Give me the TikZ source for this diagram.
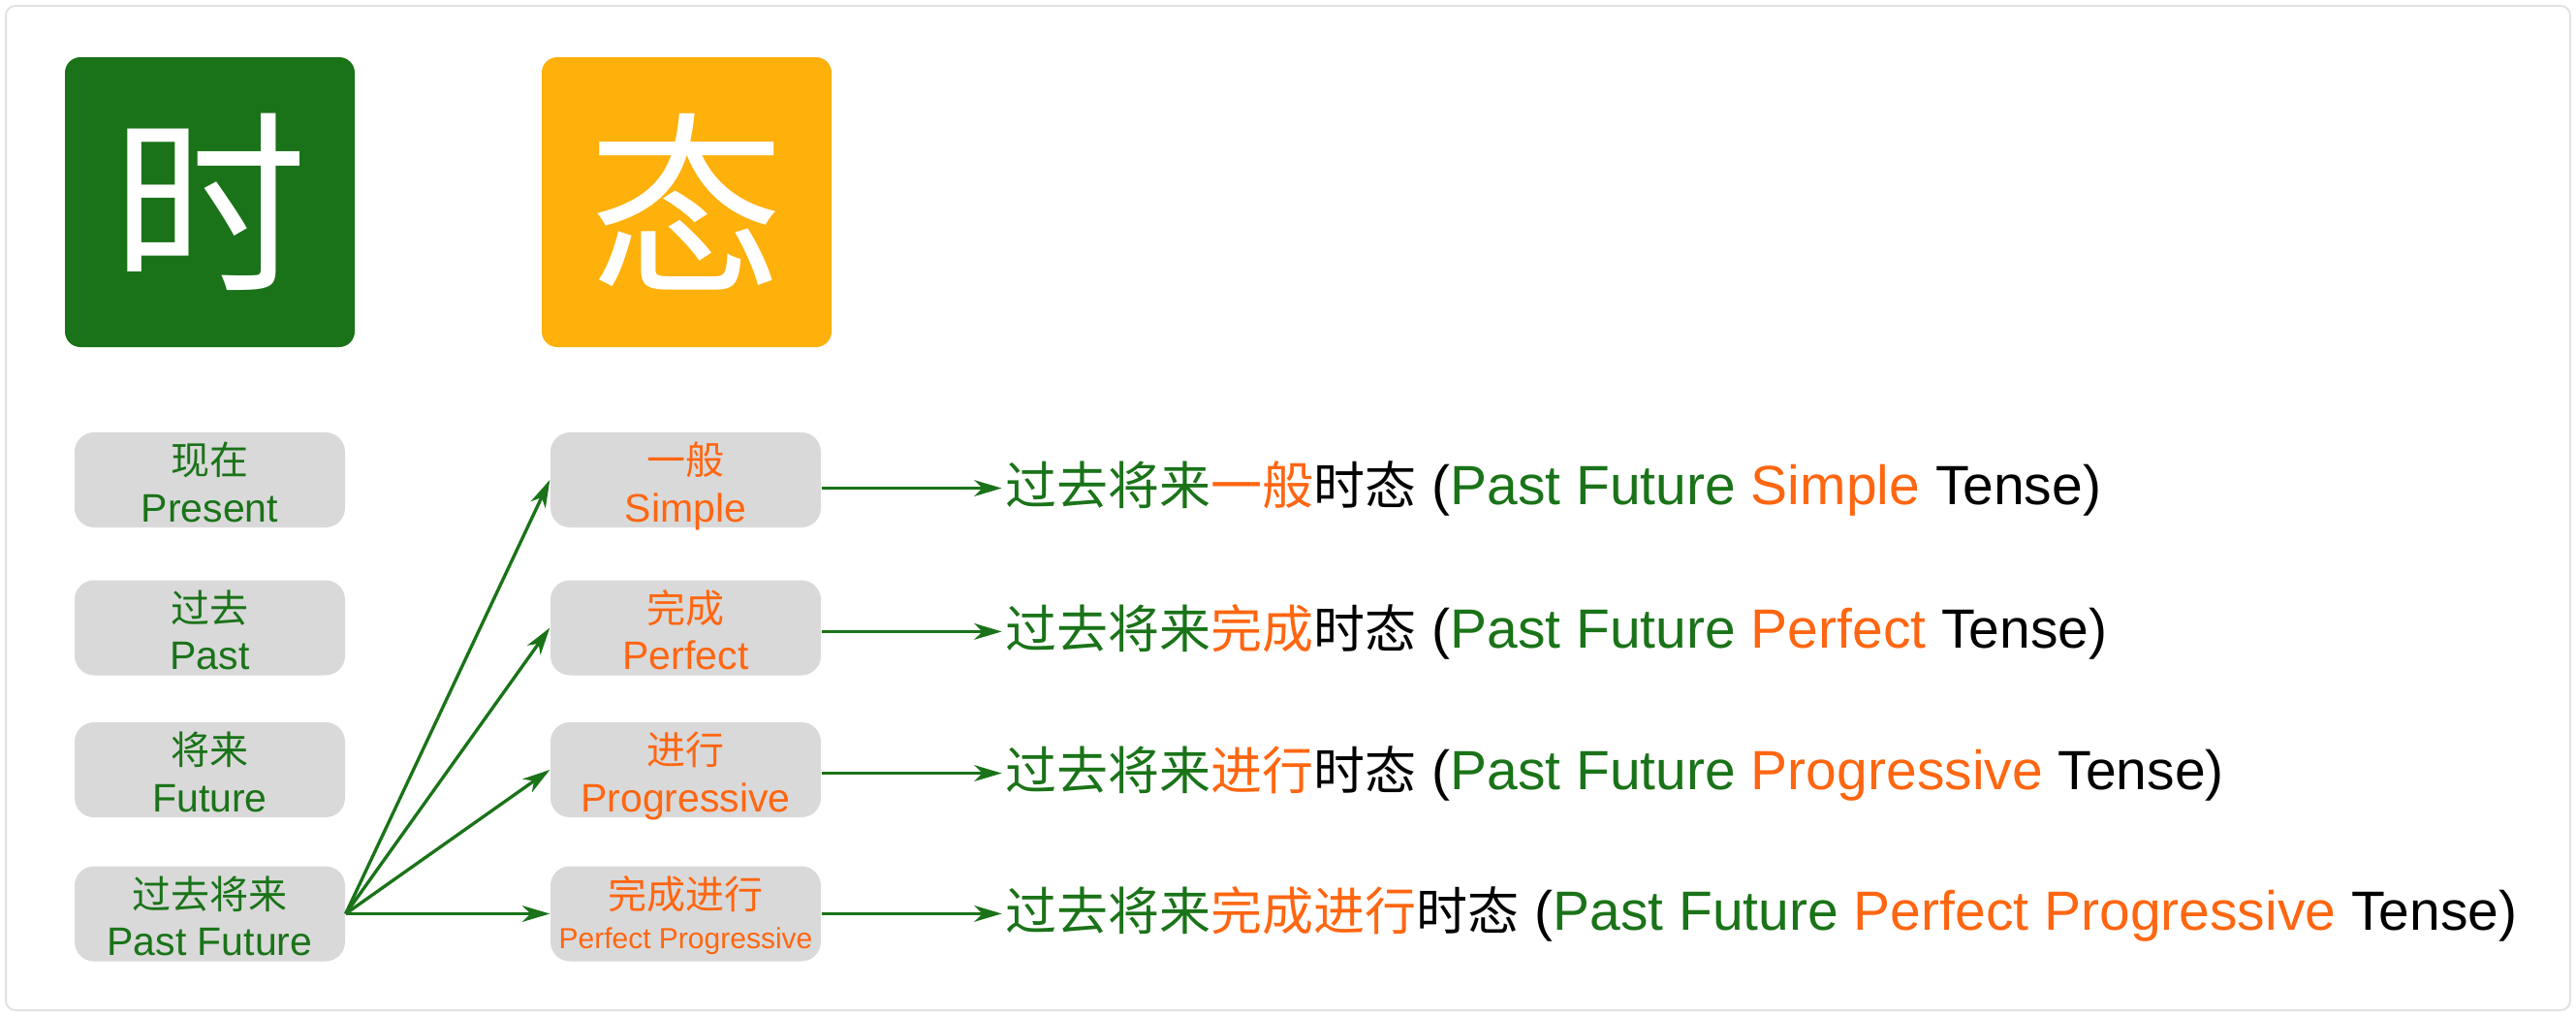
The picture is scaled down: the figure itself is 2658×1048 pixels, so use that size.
\documentclass[tikz,border=0pt]{standalone}
\usepackage{fontspec}
\setmainfont{Liberation Sans}
\newfontfamily\cjk{Noto Sans CJK SC}
\usetikzlibrary{arrows.meta}
\definecolor{tgreen}{RGB}{26,115,24}
\definecolor{torange}{RGB}{254,176,11}
\definecolor{tred}{RGB}{255,102,17}
\definecolor{tgray}{RGB}{217,217,217}
\definecolor{tframe}{RGB}{226,226,226}
\newcommand\zhrow{\cjk\fontsize{15.9pt}{15.9pt}\selectfont}
\begin{document}
\begin{tikzpicture}[x=0.3pt,y=-0.3pt,
 bigbox/.style={rounded corners=4.8pt, minimum width=89.7pt, minimum height=89.7pt, inner sep=0pt, text=white, font=\cjk\fontsize{60.5pt}{60.5pt}\selectfont},
 graybox/.style={fill=tgray, rounded corners=6pt, minimum width=83.7pt, minimum height=29.4pt, inner sep=0pt},
 zh/.style={font=\cjk\fontsize{12pt}{12pt}\selectfont, inner sep=0pt, anchor=base},
 en/.style={font=\fontsize{12.3pt}{12.3pt}\selectfont, inner sep=0pt, anchor=base},
 ensmall/.style={font=\fontsize{9pt}{9pt}\selectfont, inner sep=0pt, anchor=base},
 rowtext/.style={font=\fontsize{17.1pt}{17.1pt}\selectfont, inner sep=0pt, anchor=base west},
 arr/.style={draw=tgreen, line width=1pt, -{Stealth[length=8.5pt,width=5pt,inset=2.5pt]}}
]
\useasboundingbox (0,0) rectangle (2658,1048);
\draw[tframe, line width=0.6pt, rounded corners=3pt] (6,6) rectangle (2652,1042);

% big boxes
\node[bigbox, fill=tgreen] (shi) at (216.5,208.5) {时};
\node[bigbox, fill=torange] (tai) at (708.5,208.5) {态};

% left column
\node[graybox] (l1) at (216.5,495) {};
\node[graybox] (l2) at (216.5,647.5) {};
\node[graybox] (l3) at (216.5,794) {};
\node[graybox] (pf) at (216.5,942.5) {};
\node[zh, text=tgreen] (l1a) at (216.5,489.5) {现在};
\node[en, text=tgreen] (l1b) at (216.5,538) {Present};
\node[zh, text=tgreen] (l2a) at (216.5,642) {过去};
\node[en, text=tgreen] (l2b) at (216.5,690.5) {Past};
\node[zh, text=tgreen] (l3a) at (216.5,788.5) {将来};
\node[en, text=tgreen] (l3b) at (216.5,837) {Future};
\node[zh, text=tgreen] (pfa) at (216.5,937) {过去将来};
\node[en, text=tgreen] (pfb) at (216.5,985.5) {Past Future};

% middle column
\node[graybox] (m1) at (707.5,495) {};
\node[graybox] (m2) at (707.5,647.5) {};
\node[graybox] (m3) at (707.5,794) {};
\node[graybox] (m4) at (707.5,942.5) {};
\node[zh, text=tred] (m1a) at (707.5,489.5) {一般};
\node[en, text=tred] (m1b) at (707.5,538) {Simple};
\node[zh, text=tred] (m2a) at (707.5,642) {完成};
\node[en, text=tred] (m2b) at (707.5,690.5) {Perfect};
\node[zh, text=tred] (m3a) at (707.5,788.5) {进行};
\node[en, text=tred] (m3b) at (707.5,837) {Progressive};
\node[zh, text=tred] (m4a) at (707.5,937) {完成进行};
\node[ensmall, text=tred] (m4b) at (707.5,978) {Perfect Progressive};

% right texts
\node[rowtext] (t1) at (1037,520) {{\zhrow\color{tgreen}过去将来\color{tred}一般\color{black}时态} (\textcolor{tgreen}{Past Future} \textcolor{tred}{Simple} Tense)};
\node[rowtext] (t2) at (1037,668) {{\zhrow\color{tgreen}过去将来\color{tred}完成\color{black}时态} (\textcolor{tgreen}{Past Future} \textcolor{tred}{Perfect} Tense)};
\node[rowtext] (t3) at (1037,814) {{\zhrow\color{tgreen}过去将来\color{tred}进行\color{black}时态} (\textcolor{tgreen}{Past Future} \textcolor{tred}{Progressive} Tense)};
\node[rowtext] (t4) at (1037,959) {{\zhrow\color{tgreen}过去将来\color{tred}完成进行\color{black}时态} (\textcolor{tgreen}{Past Future} \textcolor{tred}{Perfect Progressive} Tense)};

% arrows
\draw[arr] (pf.east) -- (m1.west);
\draw[arr] (pf.east) -- (m2.west);
\draw[arr] (pf.east) -- (m3.west);
\draw[arr] (pf.east) -- (m4.west);
\draw[arr, shorten >=1pt] (m1.east |- t1.west) -- (t1.west);
\draw[arr, shorten >=1pt] (m2.east |- t2.west) -- (t2.west);
\draw[arr, shorten >=1pt] (m3.east |- t3.west) -- (t3.west);
\draw[arr, shorten >=1pt] (m4.east |- t4.west) -- (t4.west);
\end{tikzpicture}
\end{document}
